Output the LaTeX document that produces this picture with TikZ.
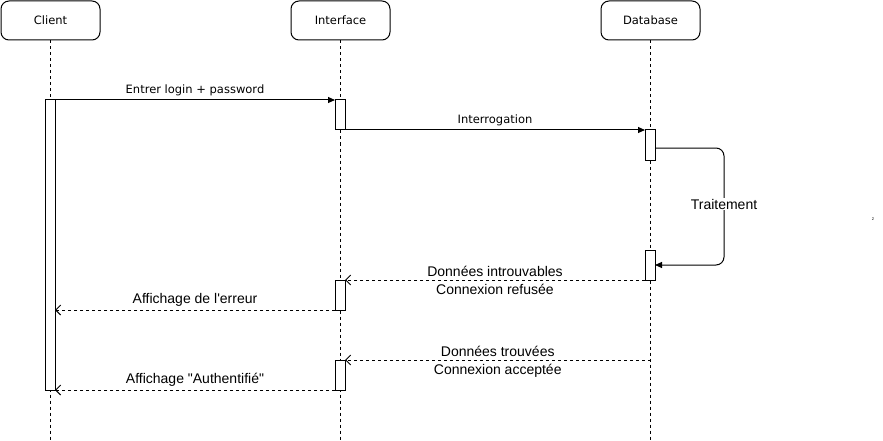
\documentclass[tikz,border=0pt]{standalone}
\usepackage{fontspec}
\setmainfont{Liberation Sans}[Ligatures=TeXOff]
\newfontfamily\verdana{DejaVu Sans}[Ligatures=TeXOff]
\usetikzlibrary{arrows.meta}

\begin{document}
\begin{tikzpicture}[x=1pt,y=-1pt,
  actor/.style={draw,line width=1pt,rounded corners=8pt,minimum width=99pt,minimum height=39pt,font=\verdana\fontsize{11.5}{14}\selectfont},
  lifeline/.style={line width=1pt,dash pattern=on 3pt off 3pt},
  activ/.style={draw,fill=white,line width=1pt,minimum width=10pt,minimum height=#1,inner sep=0pt,outer sep=0pt,anchor=north},
  call/.style={line width=1pt,-{Triangle[length=7pt,width=6pt]}},
  reply/.style={line width=1pt,dash pattern=on 3pt off 3pt,-{Straight Barb[length=5pt,width=10pt]}},
  msg/.style={font=\verdana\fontsize{11.5}{14}\selectfont},
  lbl/.style={font=\fontsize{14}{16}\selectfont}]
\useasboundingbox (0,0) rectangle (883,441);
\coordinate (bottom) at (0,441);
% participants
\node[actor] (client) at (50.5,20.5) {Client};
\node[actor] (interface) at (340.5,20.5) {Interface};
\node[actor] (database) at (650.5,20.5) {Database};
\draw[lifeline] (client.south) -- (client.south |- bottom);
\draw[lifeline] (interface.south) -- (interface.south |- bottom);
\draw[lifeline] (database.south) -- (database.south |- bottom);
% activations
\node[activ=290pt] (ac) at (50,100) {};
\node[activ=30pt] (ai1) at (340,100) {};
\node[activ=30pt] (ad1) at (650,130) {};
\node[activ=30pt] (ad2) at (650,250) {};
\node[activ=30pt] (ai2) at (340,280) {};
\node[activ=30pt] (ai3) at (340,360) {};
% messages
\draw[call] (ac.north east) -- (ai1.north west) node[midway,above,msg] (m1) {Entrer login + password};
\draw[call] (ai1.south east) -- (ad1.north west) node[midway,above,msg] (m2) {Interrogation};
\coordinate (turn) at (724,204);
\draw[call,rounded corners=8pt] ([yshift=-3pt]ad1.east) -| (turn) |- (ad2.east);
\node[lbl,fill=white,inner sep=1pt] (traitement) at (turn) {Traitement};
\draw[reply] (ad2.south west) -- (ai2.north east)
  node[midway,above,lbl] (m3) {Données introuvables}
  node[midway,below,lbl] (m4) {Connexion refusée};
\draw[reply] (ai2.south west) -- (ac.east |- ai2.south) node[midway,above,lbl] (m5) {Affichage de l'erreur};
\draw[reply] (database.south |- ai3.north) -- (ai3.north east)
  node[midway,above,lbl] (m6) {Données trouvées}
  node[midway,below,lbl] (m7) {Connexion acceptée};
\draw[reply] (ai3.south west) -- (ac.south east) node[midway,above,lbl] (m8) {Affichage "Authentifié"};
\node[font=\fontsize{4}{4}\selectfont,inner sep=0pt] (mark) at (873,219) {2};
\end{tikzpicture}
\end{document}
